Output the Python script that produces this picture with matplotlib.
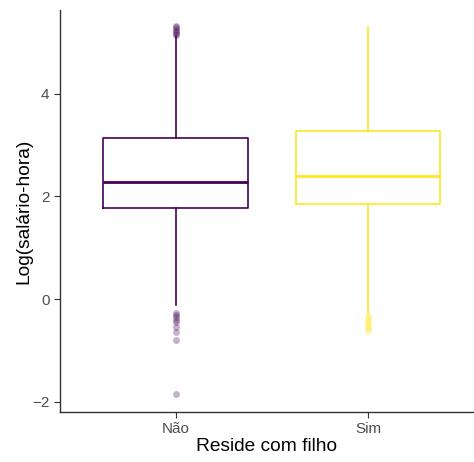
import matplotlib
matplotlib.use("Agg")
import matplotlib.pyplot as plt

# data
groups = ["Não", "Sim"]
colors = ["#440154", "#FDE725"]
q1 = [1.78, 1.86]
med = [2.28, 2.40]
q3 = [3.14, 3.27]
whislo = [-0.12, -0.30]
whishi = [5.12, 5.30]
fliers_nao = [5.14, 5.17, 5.2, 5.23, 5.26, 5.29, 5.31,
              -0.27, -0.31, -0.35, -0.4, -0.45, -0.55, -0.64, -0.80, -1.85]
fliers_sim = [-0.33, -0.37, -0.42, -0.47, -0.52, -0.57, -0.62]
fliers = [fliers_nao, fliers_sim]

plt.rcParams['font.family'] = ['Liberation Sans', 'DejaVu Sans']

fig = plt.figure(figsize=(4.74, 4.62), dpi=100)
ax = fig.add_axes([60 / 474, 50 / 462, 1 - 60 / 474, 402 / 462])

for i, g in enumerate(groups):
    stats = [dict(label=g, q1=q1[i], med=med[i], q3=q3[i],
                  whislo=whislo[i], whishi=whishi[i], fliers=fliers[i])]
    c = colors[i]
    ax.bxp(stats, positions=[i + 1], widths=0.75, showcaps=False,
           boxprops=dict(color=c, linewidth=1.2),
           whiskerprops=dict(color=c, linewidth=1.2),
           medianprops=dict(color=c, linewidth=2.0),
           flierprops=dict(marker='o', markersize=5, markerfacecolor=c,
                           markeredgecolor='none', alpha=0.3, linestyle='none'))

ax.set_xlim(0.4, 2.55)
ax.set_ylim(-2.2, 5.63)
ax.set_yticks([-2, 0, 2, 4])
ax.set_xticks([1, 2])
ax.set_xticklabels(groups)
ax.set_xlabel("Reside com filho", fontsize=13.8, color='black', labelpad=1)
ax.set_ylabel("Log(salário-hora)", fontsize=13.8, color='black', labelpad=0)
ax.tick_params(colors='#4D4D4D', labelsize=11, length=4, width=0.8)
ax.tick_params(axis='both', color='#333333')
for s in ['top', 'right']:
    ax.spines[s].set_visible(False)
for s in ['left', 'bottom']:
    ax.spines[s].set_linewidth(1.0)
    ax.spines[s].set_color('#333333')

fig.savefig("out.png", dpi=100)
